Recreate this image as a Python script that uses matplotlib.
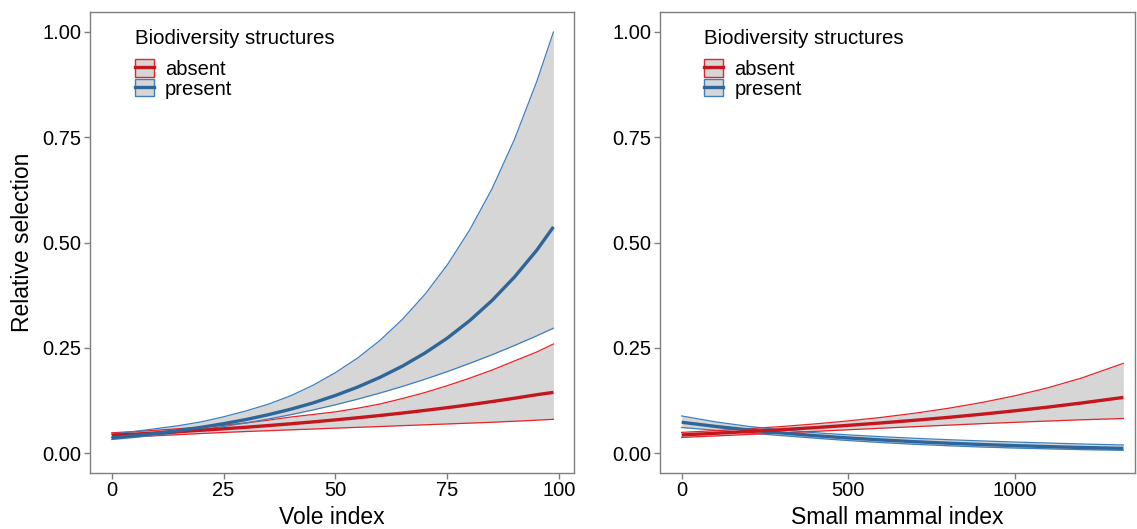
import matplotlib
matplotlib.use("Agg")
import matplotlib.pyplot as plt
from matplotlib.patches import Patch
from matplotlib.lines import Line2D

plt.rcParams['font.family'] = ['Liberation Sans', 'DejaVu Sans']

# ---- Left panel: Vole index ----
vole_x = [0, 5, 10, 15, 20, 25, 30, 35, 40, 45, 50, 55, 60, 65, 70, 75, 80, 85, 90, 95, 98.7]
vole_present_mean = [0.0362, 0.0412, 0.0470, 0.0535, 0.0610, 0.0697, 0.0795, 0.0910, 0.1040, 0.1190,
                     0.1367, 0.1568, 0.1800, 0.2066, 0.2375, 0.2730, 0.3145, 0.3624, 0.4180, 0.4820, 0.5370]
vole_present_lo = [0.0321, 0.0369, 0.0424, 0.0485, 0.0554, 0.0630, 0.0714, 0.0807, 0.0910, 0.1023,
                   0.1146, 0.1280, 0.1426, 0.1583, 0.1752, 0.1934, 0.2129, 0.2334, 0.2554, 0.2784, 0.2964]
vole_present_hi = [0.0450, 0.0510, 0.0580, 0.0650, 0.0740, 0.0860, 0.1000, 0.1160, 0.1360, 0.1610,
                   0.1910, 0.2260, 0.2680, 0.3180, 0.3770, 0.4470, 0.5300, 0.6280, 0.7450, 0.8830, 1.0000]
vole_absent_mean = [0.0420, 0.0447, 0.0476, 0.0507, 0.0540, 0.0575, 0.0612, 0.0652, 0.0694, 0.0739,
                    0.0787, 0.0838, 0.0892, 0.0950, 0.1012, 0.1077, 0.1147, 0.1222, 0.1301, 0.1385, 0.1440]
vole_absent_lo = [0.0365, 0.0388, 0.0411, 0.0436, 0.0463, 0.0488, 0.0510, 0.0530, 0.0550, 0.0570,
                  0.0590, 0.0610, 0.0630, 0.0650, 0.0670, 0.0690, 0.0710, 0.0730, 0.0755, 0.0780, 0.0800]
vole_absent_hi = [0.0480, 0.0510, 0.0540, 0.0577, 0.0611, 0.0660, 0.0714, 0.0780, 0.0854, 0.0915,
                  0.0978, 0.1065, 0.1165, 0.1295, 0.1437, 0.1600, 0.1778, 0.1970, 0.2187, 0.2400, 0.2590]

# ---- Right panel: Small mammal index ----
sm_x = [0, 100, 200, 300, 400, 500, 600, 700, 800, 900, 1000, 1100, 1200, 1325]
sm_absent_mean = [0.0430, 0.0468, 0.0509, 0.0554, 0.0603, 0.0657, 0.0715, 0.0778, 0.0846, 0.0921,
                  0.1003, 0.1091, 0.1188, 0.1320]
sm_absent_lo = [0.0370, 0.0405, 0.0440, 0.0477, 0.0514, 0.0552, 0.0589, 0.0626, 0.0662, 0.0697,
                0.0729, 0.0760, 0.0789, 0.0820]
sm_absent_hi = [0.0490, 0.0530, 0.0576, 0.0629, 0.0691, 0.0763, 0.0847, 0.0946, 0.1062, 0.1199,
                0.1360, 0.1552, 0.1782, 0.2130]
sm_present_mean = [0.0730, 0.0633, 0.0549, 0.0476, 0.0412, 0.0357, 0.0310, 0.0268, 0.0233, 0.0202,
                   0.0175, 0.0152, 0.0131, 0.0110]
sm_present_lo = [0.0606, 0.0541, 0.0476, 0.0413, 0.0352, 0.0296, 0.0248, 0.0206, 0.0172, 0.0142,
                 0.0118, 0.0098, 0.0080, 0.0064]
sm_present_hi = [0.0880, 0.0741, 0.0633, 0.0549, 0.0482, 0.0430, 0.0387, 0.0349, 0.0316, 0.0287,
                 0.0260, 0.0237, 0.0214, 0.0191]

groups = ['absent', 'present']
legend_title = 'Biodiversity structures'
y_ticks = [0.00, 0.25, 0.50, 0.75, 1.00]
y_ticklabels = ['0.00', '0.25', '0.50', '0.75', '1.00']

RED_EDGE = '#E8242B'
RED_MEAN = '#C4161C'
BLUE_EDGE = '#3D80C0'
BLUE_MEAN = '#2E6699'
FILL = '#D6D6D6'
FRAME = '#7F7F7F'

W, H = 1137, 529
fig = plt.figure(figsize=(W / 100, H / 100), dpi=100)
axL = fig.add_axes([90 / W, (H - 473) / H, (574 - 90) / W, (473 - 12) / H])
axR = fig.add_axes([660 / W, (H - 473) / H, (1135 - 660) / W, (473 - 12) / H])


def draw(ax, x, series):
    for mean, lo, hi, edge, mc in series:
        ax.fill_between(x, lo, hi, color=FILL, lw=0, zorder=1)
    for mean, lo, hi, edge, mc in series:
        ax.plot(x, lo, color=edge, lw=0.9, zorder=2)
        ax.plot(x, hi, color=edge, lw=0.9, zorder=2)
        ax.plot(x, mean, color=mc, lw=2.4, zorder=3, solid_capstyle='butt')


draw(axL, vole_x, [
    (vole_absent_mean, vole_absent_lo, vole_absent_hi, RED_EDGE, RED_MEAN),
    (vole_present_mean, vole_present_lo, vole_present_hi, BLUE_EDGE, BLUE_MEAN),
])
draw(axR, sm_x, [
    (sm_present_mean, sm_present_lo, sm_present_hi, BLUE_EDGE, BLUE_MEAN),
    (sm_absent_mean, sm_absent_lo, sm_absent_hi, RED_EDGE, RED_MEAN),
])

axL.set_xlim(-4.85, 103.3)
axL.set_xticks([0, 25, 50, 75, 100])
axL.set_xlabel('Vole index', fontsize=16.5, labelpad=4)
axL.set_ylabel('Relative selection', fontsize=16.5, labelpad=6)

axR.set_xlim(-65, 1360)
axR.set_xticks([0, 500, 1000])
axR.set_xlabel('Small mammal index', fontsize=16.5, labelpad=4)

for ax in (axL, axR):
    ax.set_ylim(-0.0475, 1.0475)
    ax.set_yticks(y_ticks)
    ax.set_yticklabels(y_ticklabels)
    ax.tick_params(axis='both', labelsize=14.5, color=FRAME, length=4, width=1, labelcolor='black', pad=2)
    for s in ax.spines.values():
        s.set_color(FRAME)
        s.set_linewidth(1)
    handles = [
        (Patch(facecolor=FILL, edgecolor=RED_EDGE, lw=1), Line2D([], [], color=RED_MEAN, lw=2.4)),
        (Patch(facecolor=FILL, edgecolor=BLUE_EDGE, lw=1), Line2D([], [], color=BLUE_MEAN, lw=2.4)),
    ]
    leg = ax.legend(handles, groups, title=legend_title, loc='upper left',
                    bbox_to_anchor=(0.076, 0.98), frameon=False, fontsize=14.5,
                    title_fontsize=14.7, handlelength=0.95, handleheight=0.95,
                    labelspacing=0.0, handletextpad=0.55, alignment='left',
                    borderaxespad=0)
    leg._legend_box.sep = 8

fig.savefig('out.png', dpi=100)
